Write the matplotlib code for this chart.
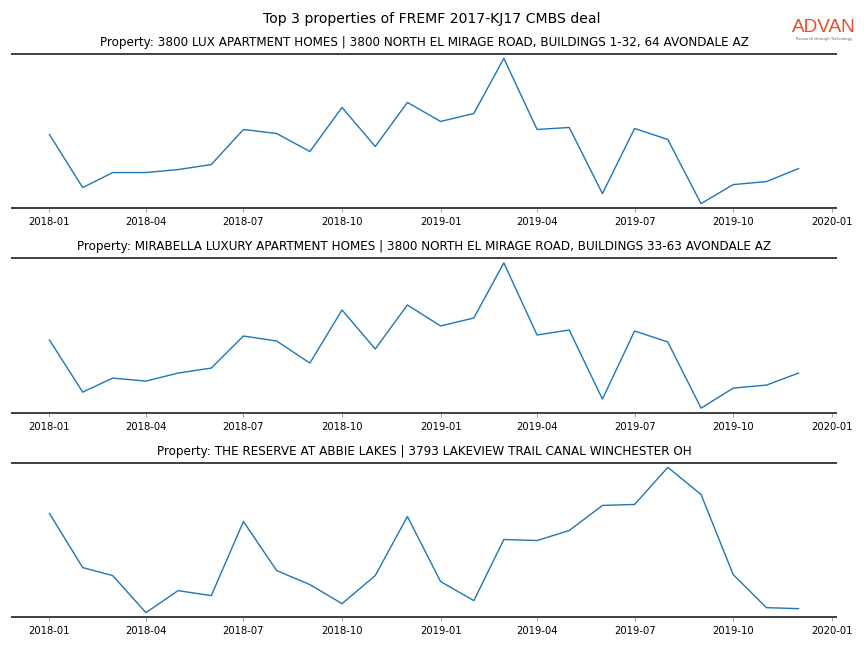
import matplotlib
matplotlib.use('Agg')
import matplotlib.pyplot as plt
import matplotlib.dates as mdates
import pandas as pd

months = pd.date_range('2018-01-01', '2019-12-01', freq='MS')

titles = [
    'Property: 3800 LUX APARTMENT HOMES | 3800 NORTH EL MIRAGE ROAD, BUILDINGS 1-32, 64 AVONDALE AZ',
    'Property: MIRABELLA LUXURY APARTMENT HOMES | 3800 NORTH EL MIRAGE ROAD, BUILDINGS 33-63 AVONDALE AZ',
    'Property: THE RESERVE AT ABBIE LAKES | 3793 LAKEVIEW TRAIL CANAL WINCHESTER OH',
]

visits_lux = [73, 20, 35, 35, 38, 43, 78, 74, 56, 100, 61, 105,
              86, 94, 149, 78, 80, 14, 79, 68, 4, 23, 26, 39]
visits_mirabella = [71, 19, 33, 30, 38, 43, 75, 70, 48, 101, 62, 106,
                    85, 93, 148, 76, 81, 12, 80, 69, 3, 23, 26, 38]
visits_reserve = [104, 50, 42, 5, 27, 22, 96, 47, 33, 14, 42, 101,
                  36, 17, 78, 77, 87, 112, 113, 150, 123, 43, 10, 9]

series = [visits_lux, visits_mirabella, visits_reserve]

fig, axes = plt.subplots(3, 1, figsize=(12, 9), dpi=72)
fig.subplots_adjust(left=0.0139, right=0.9676, top=0.9167, bottom=0.0478, hspace=0.328)

for ax, title, vals in zip(axes, titles, series):
    ax.plot(months, vals, color='#1f77b4', lw=1.4)
    ax.margins(y=0.03)
    ax.set_title(title, fontsize=12, pad=8)
    ax.set_yticks([])
    for s in ['left', 'right']:
        ax.spines[s].set_visible(False)
    for s in ['top', 'bottom']:
        ax.spines[s].set_color('#444444')
        ax.spines[s].set_linewidth(2)
    ax.xaxis.set_major_locator(mdates.MonthLocator(bymonth=[1, 4, 7, 10]))
    ax.xaxis.set_major_formatter(mdates.DateFormatter('%Y-%m'))
    ax.tick_params(axis='x', labelsize=10, length=4, color='#888888', pad=5)

fig.suptitle('Top 3 properties of FREMF 2017-KJ17 CMBS deal', fontsize=14, y=0.982)

# logo
fig.text(0.954, 0.958, 'ADVAN', color='#e0502a', fontsize=19, ha='center', va='center',
         family='Liberation Sans')
fig.text(0.954, 0.940, 'Research through Technology', color='#666666', fontsize=3.8,
         ha='center', va='center')

fig.savefig('out.png', dpi=72)
